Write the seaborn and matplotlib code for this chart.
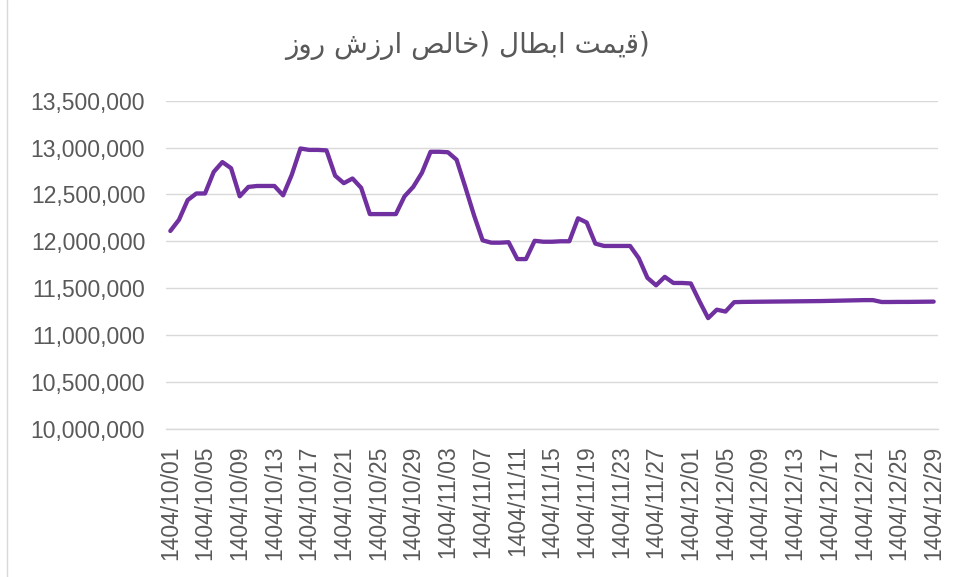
import matplotlib
matplotlib.use("Agg")
import matplotlib.pyplot as plt
import matplotlib.ticker as mticker
from matplotlib.lines import Line2D
import seaborn as sns
import pandas as pd

# Persian calendar days shown on the chart (1404/10/01 .. 1404/12/29)
month_days = {"10": 30, "11": 30, "12": 29}
dates = [f"1404/{m}/{d:02d}" for m, n in month_days.items() for d in range(1, n + 1)]

# Redemption price (NAV)
nav = [
    12110000, 12230000, 12440000, 12510000, 12510000, 12740000, 12845000, 12780000,
    12480000, 12580000, 12590000, 12590000, 12590000, 12490000, 12710000, 12990000,
    12975000, 12975000, 12970000, 12700000, 12620000, 12670000, 12570000, 12290000,
    12290000, 12290000, 12290000, 12480000, 12580000, 12730000, 12955000, 12955000,
    12950000, 12870000, 12580000, 12280000, 12010000, 11985000, 11985000, 11990000,
    11810000, 11810000, 12005000, 11995000, 11995000, 12000000, 12000000, 12245000,
    12200000, 11975000, 11950000, 11950000, 11950000, 11950000, 11820000, 11610000,
    11530000, 11620000, 11555000, 11555000, 11550000, 11360000, 11180000, 11270000,
    11250000, 11350000, 11353000, 11354000, 11355000, 11356000, 11357000, 11358000,
    11359000, 11360000, 11361000, 11362000, 11364000, 11366000, 11368000, 11370000,
    11372000, 11372000, 11352000, 11352000, 11353000, 11353000, 11354000, 11355000,
    11356000,
]

y_ticks = [10000000, 10500000, 11000000, 11500000, 12000000, 12500000, 13000000, 13500000]
tick_step = 4

# Title "قیمت ابطال (خالص ارزش روز)" as displayed in the reference, written with
# Arabic presentation forms in left-to-right display order
w_rooz = "\uFEAF\uFEED\uFEAD"              # روز
w_arzesh = "\uFEB5\uFEAF\uFEAD\uFE8D"      # ارزش
w_khales = "\uFEBA\uFEDF\uFE8E\uFEA7"      # خالص
w_ebtal = "\uFEDD\uFE8E\uFEC4\uFE91\uFE8D"  # ابطال
w_gheymat = "\uFE96\uFEE4\uFBFE\uFED7"     # قیمت
title_text = w_rooz + " " + w_arzesh + " " + w_khales + ") " + w_ebtal + " " + w_gheymat + ")"

df = pd.DataFrame({"idx": range(len(nav)), "date": dates, "nav": nav})

sns.set_theme(style="white")
plt.rcParams["font.family"] = ["Liberation Sans", "DejaVu Sans"]

fig = plt.figure(figsize=(9.58, 5.77), dpi=100)
ax = fig.add_axes([166 / 958, 1 - 428.7 / 577, (938 - 166) / 958, (428.7 - 100.7) / 577])

sns.lineplot(data=df, x="idx", y="nav", ax=ax, color="#7030A0", linewidth=3.1,
             solid_capstyle="round", solid_joinstyle="round", zorder=3)

ax.set_xlim(-0.5, len(nav) - 0.5)
ax.set_ylim(y_ticks[0], y_ticks[-1])
ax.set_yticks(y_ticks)
ax.yaxis.set_major_formatter(mticker.FuncFormatter(lambda v, p: f"{int(v):,}"))
tick_pos = list(range(0, len(nav), tick_step))
ax.set_xticks(tick_pos)
ax.set_xticklabels([dates[i] for i in tick_pos], rotation=90)

ax.grid(axis="y", color="#D9D9D9", linewidth=1.0)
ax.grid(axis="x", visible=False)
for s in ["left", "right", "top"]:
    ax.spines[s].set_visible(False)
ax.spines["bottom"].set_color("#D9D9D9")
ax.spines["bottom"].set_linewidth(1.0)
ax.tick_params(axis="both", length=0, labelsize=16.5, labelcolor="#595959")
ax.tick_params(axis="y", pad=15)
ax.tick_params(axis="x", pad=12)
ax.set_xlabel("")
ax.set_ylabel("")

fig.text(0.488, 1 - 45 / 577, title_text, ha="center", va="center", fontsize=20,
         color="#595959", family=["DejaVu Sans"])

fig.add_artist(Line2D([7 / 958, 7 / 958], [0, 1], color="#D9D9D9", linewidth=1.0,
                      transform=fig.transFigure))

fig.savefig("out.png", dpi=100)
